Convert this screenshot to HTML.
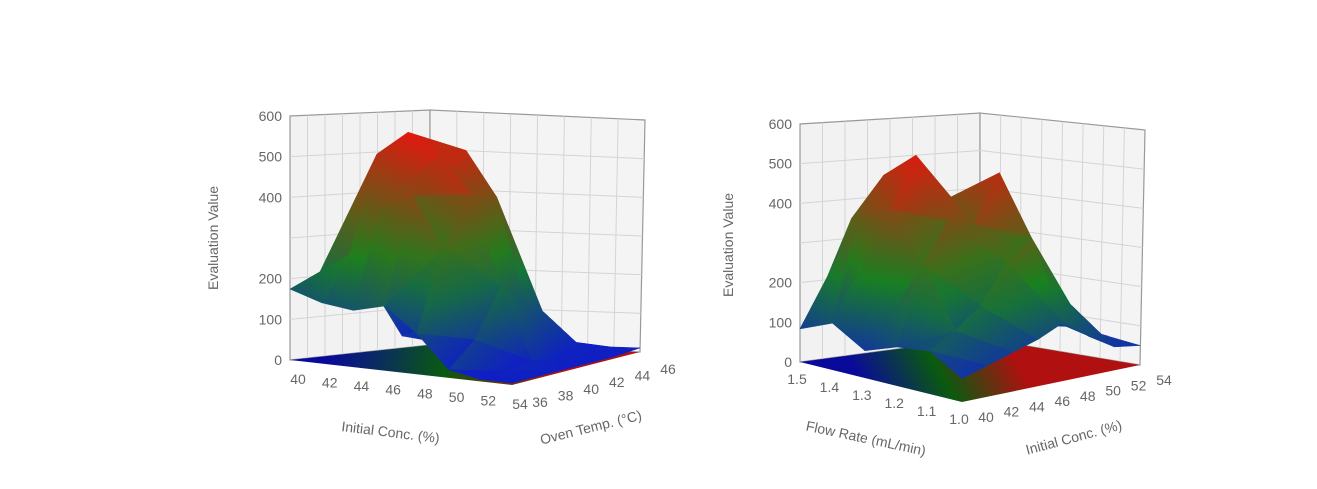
<!DOCTYPE html>
<html><head><meta charset="utf-8">
<style>
html,body{margin:0;padding:0;background:#fff;width:1317px;height:489px;overflow:hidden}
svg{position:absolute;left:0;top:0}
text{font-family:"Liberation Sans",sans-serif;fill:#666;font-size:14px}
</style></head>
<body>
<svg id="s" width="1317" height="489" viewBox="0 0 1317 489" xmlns="http://www.w3.org/2000/svg"></svg>
<script>
// ---- Chart 1 data: rows = Oven Temp, cols = Initial Conc.
const c1Conc = ["40","42","44","46","48","50","52","54"];
const c1Temp = ["36","38","40","42","44","46"];
const c1Values = [
  [175,150,140,160,100,20,5,5],
  [200,260,380,420,300,80,10,5],
  [240,500,560,510,420,200,20,5],
  [150,350,480,510,400,120,10,5],
  [30,60,100,200,150,40,10,5],
  [10,10,20,30,20,10,10,10]
];
// ---- Chart 2 data: rows = Flow Rate, cols = Initial Conc.
const c2Flow = ["1.5","1.4","1.3","1.2","1.1","1.0"];
const c2Conc = ["40","42","44","46","48","50","52","54"];
const c2Values = [
  [85,200,350,300,150,80,70,60],
  [120,380,480,380,250,100,80,70],
  [70,420,550,420,300,150,90,60],
  [100,300,400,380,500,300,100,70],
  [110,150,200,300,350,200,80,60],
  [60,80,100,120,150,100,60,50]
];
const yTicks = [0,100,200,400,500,600];
const yMax = 600;

const NS="http://www.w3.org/2000/svg";
const svg=document.getElementById('s');
function mk(tag,attrs,parent){const e=document.createElementNS(NS,tag);for(const k in attrs)e.setAttribute(k,attrs[k]);(parent||svg).appendChild(e);return e;}
function lerp(a,b,t){return a+(b-a)*t;}
function colorFor(v){
  const t=Math.max(0,Math.min(1,v/560));
  let r,g,b;
  if(t<0.45){const k=t/0.45;r=lerp(15,25,k);g=lerp(30,130,k);b=lerp(200,30,k);}
  else{const k=(t-0.45)/0.55;r=lerp(25,225,k);g=lerp(130,25,k);b=lerp(30,15,k);}
  return `rgb(${r|0},${g|0},${b|0})`;
}
let gradId=0;
function drawChart(cfg){
  const g=mk('g',{});
  
  
  const {L,F,R,B,LT,BT,RT,scale}=cfg;
  function floor(u,w){
    const p0x=lerp(L[0],F[0],u),p0y=lerp(L[1],F[1],u);
    const p1x=lerp(B[0],R[0],u),p1y=lerp(B[1],R[1],u);
    return [lerp(p0x,p1x,w),lerp(p0y,p1y,w)];
  }
  const wall=mk('g',{},g);
  
  
  mk('polygon',{points:`${L} ${B} ${BT} ${LT}`,fill:'#f2f2f2',stroke:'#999','stroke-width':1.2},wall);
  mk('polygon',{points:`${B} ${R} ${RT} ${BT}`,fill:'#f4f4f4',stroke:'#999','stroke-width':1.2},wall);
  for(let v=100;v<=500;v+=100){
    const t=v/yMax;
    const a=[lerp(L[0],LT[0],t),lerp(L[1],LT[1],t)],b=[lerp(B[0],BT[0],t),lerp(B[1],BT[1],t)],c=[lerp(R[0],RT[0],t),lerp(R[1],RT[1],t)];
    mk('polyline',{points:`${a} ${b} ${c}`,fill:'none',stroke:'#d4d4d4','stroke-width':1},wall);
  }
  for(let k=1;k<8;k++){
    const t=k/8;
    mk('line',{x1:lerp(L[0],B[0],t),y1:lerp(L[1],B[1],t),x2:lerp(LT[0],BT[0],t),y2:lerp(LT[1],BT[1],t),stroke:'#d4d4d4'},wall);
    mk('line',{x1:lerp(B[0],R[0],t),y1:lerp(B[1],R[1],t),x2:lerp(BT[0],RT[0],t),y2:lerp(BT[1],RT[1],t),stroke:'#d4d4d4'},wall);
  }
  const defs=mk('defs',{},g);
  const gid=cfg.name+'-fg';
  const lg=mk('linearGradient',{id:gid,x1:cfg.fgA[0],y1:cfg.fgA[1],x2:cfg.fgB[0],y2:cfg.fgB[1],gradientUnits:'userSpaceOnUse'},defs);
  mk('stop',{offset:'0','stop-color':'#0a0a9a'},lg);
  mk('stop',{offset:'0.5','stop-color':'#0a5a10'},lg);
  mk('stop',{offset:'1','stop-color':'#b01010'},lg);
  const fl=mk('polygon',{points:`${L} ${F} ${R} ${B}`,fill:`url(#${gid})`},g);
  
  
  const vals=cfg.values, nr=vals.length, nc=vals[0].length;
  function P(r,c){
    let u,w;
    if(cfg.rowAxis==='w'){w=r/(nr-1);u=c/(nc-1);}else{u=r/(nr-1);w=c/(nc-1);}
    const f=floor(u,w);
    return {x:f[0],y:f[1]-vals[r][c]*scale,v:vals[r][c],d:(1-u)+w};
  }
  const tris=[];
  for(let r=0;r<nr-1;r++)for(let c=0;c<nc-1;c++){
    const a=P(r,c),b=P(r,c+1),cc=P(r+1,c+1),d=P(r+1,c);
    tris.push([a,b,cc]);tris.push([a,cc,d]);
  }
  tris.sort((p,q)=>(q[0].d+q[1].d+q[2].d)-(p[0].d+p[1].d+p[2].d));
  const sg=mk('g',{},g);
  
  
  tris.forEach(t=>{
    const s=[...t].sort((p,q)=>p.v-q.v);
    const lo=s[0],hi=s[2];
    let fill;
    if(hi.v-lo.v<3||Math.abs(hi.y-lo.y)<1){fill=colorFor((lo.v+hi.v)/2);}
    else{
      const id='tg'+(gradId++);
      const gr=mk('linearGradient',{id:id,x1:lo.x,y1:lo.y,x2:hi.x,y2:hi.y,gradientUnits:'userSpaceOnUse'},defs);
      mk('stop',{offset:'0','stop-color':colorFor(lo.v)},gr);
      mk('stop',{offset:'0.5','stop-color':colorFor((lo.v+hi.v)/2)},gr);
      mk('stop',{offset:'1','stop-color':colorFor(hi.v)},gr);
      fill=`url(#${id})`;
    }
    const p=mk('polygon',{points:t.map(q=>q.x.toFixed(1)+','+q.y.toFixed(1)).join(' '),fill:fill,stroke:fill,'stroke-width':0.5,'stroke-linejoin':'round'},sg);
    
    
  });
  yTicks.forEach(v=>{
    const t=v/yMax;
    const y=lerp(L[1],LT[1],t), x=lerp(L[0],LT[0],t);
    const e=mk('text',{x:x-8,y:y+5,'text-anchor':'end'},g);
    e.textContent=v;
    
    
  });
  const yt=mk('text',{x:0,y:0,'text-anchor':'middle',transform:`translate(${cfg.yTitle[0]},${cfg.yTitle[1]}) rotate(-90)`,'font-size':13},g);
  yt.textContent='Evaluation Value';
  
  
  cfg.uLabels.forEach((s,i)=>{
    const f=floor(i/(cfg.uLabels.length-1),0);
    const e=mk('text',{x:f[0]+cfg.uOff[0],y:f[1]+cfg.uOff[1],'text-anchor':'middle','font-size':15},g);
    e.textContent=s;
    
    
  });
  cfg.wLabels.forEach((s,i)=>{
    const f=floor(1,i/(cfg.wLabels.length-1));
    const e=mk('text',{x:f[0]+cfg.wOff[0],y:f[1]+cfg.wOff[1],'text-anchor':'middle','font-size':15},g);
    e.textContent=s;
    
    
  });
  cfg.titles.forEach(tt=>{
    const e=mk('text',{x:0,y:0,'text-anchor':'middle',transform:`translate(${tt.x},${tt.y}) rotate(${tt.r})`,'font-size':14},g);
    e.textContent=tt.t;
    
    
  });
}

drawChart({name:'chart-oven-temp',L:[290,360],F:[512,385],R:[640,352],B:[430,345],
  LT:[290,116],BT:[430,110],RT:[645,120],scale:0.405,
  values:c1Values,rowAxis:'w',fgA:[330,345],fgB:[560,385],
  uLabels:c1Conc,uOff:[8,24],wLabels:c1Temp,wOff:[28,22],yTitle:[218,238],
  titles:[{t:'Initial Conc. (%)',x:390,y:437,r:7,n:'x-axis-title'},{t:'Oven Temp. (°C)',x:592,y:432,r:-14,n:'z-axis-title'}]});

drawChart({name:'chart-flow-rate',L:[800,362],F:[962,402],R:[1140,365],B:[980,338],
  LT:[800,124],BT:[980,113],RT:[1145,130],scale:0.39,
  values:c2Values,rowAxis:'u',fgA:[870,400],fgB:[1000,330],
  uLabels:c2Flow,uOff:[-3,22],wLabels:c2Conc,wOff:[24,20],yTitle:[733,245],
  titles:[{t:'Flow Rate (mL/min)',x:865,y:443,r:12,n:'x-axis-title'},{t:'Initial Conc. (%)',x:1075,y:442,r:-15,n:'z-axis-title'}]});
</script>
</body></html>
